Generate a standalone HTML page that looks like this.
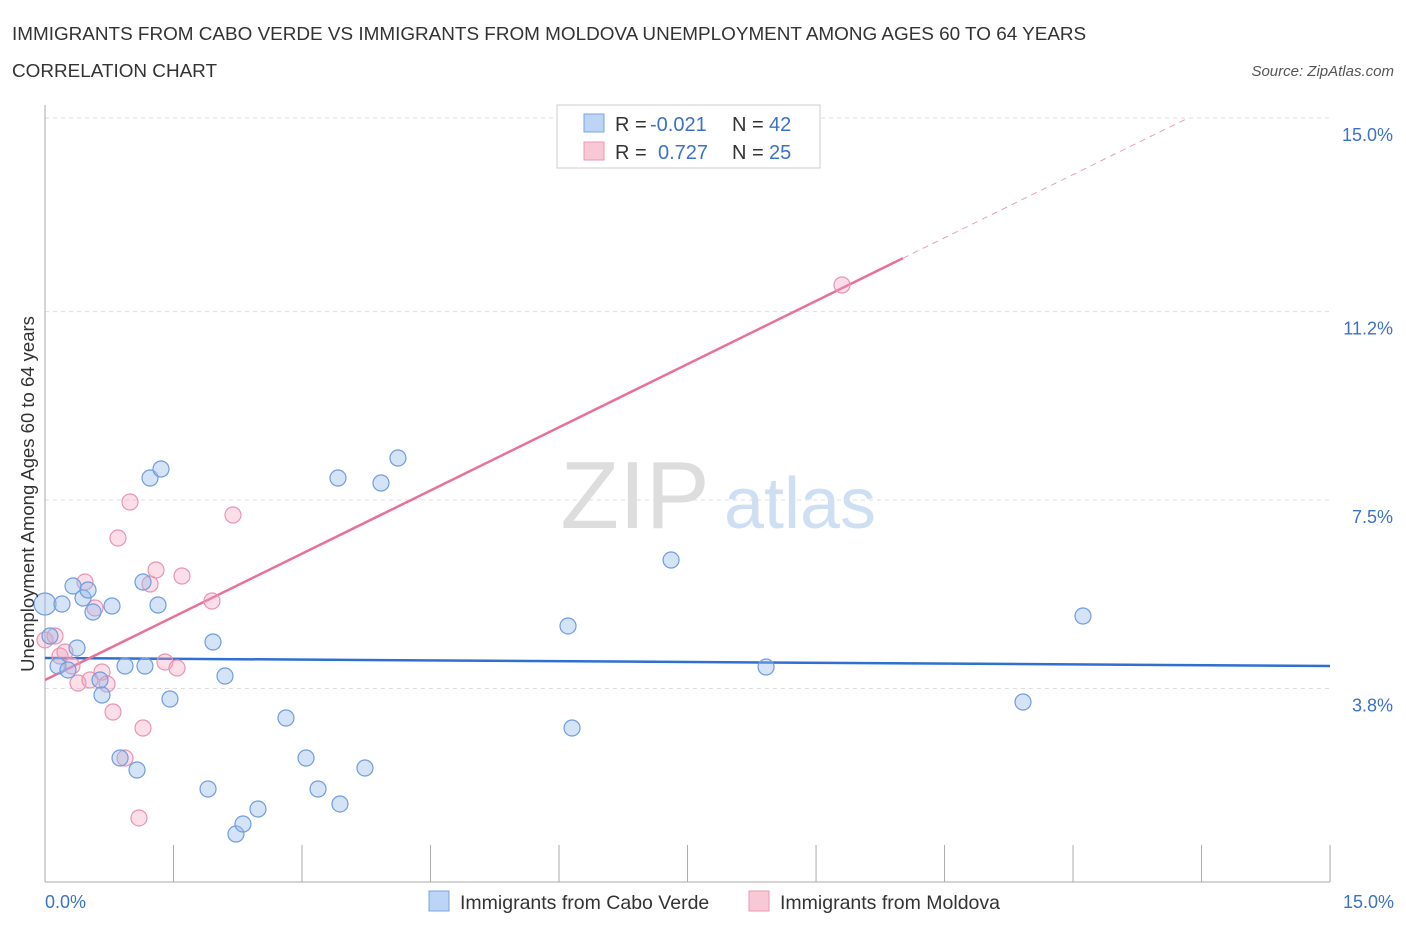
<!DOCTYPE html>
<html><head><meta charset="utf-8"><style>
body{margin:0;background:#fff;font-family:"Liberation Sans",sans-serif}
svg text{font-family:"Liberation Sans",sans-serif}
</style></head><body>
<svg id="c" width="1406" height="930">
<text x="12" y="40" font-size="18.9" fill="#333">IMMIGRANTS FROM CABO VERDE VS IMMIGRANTS FROM MOLDOVA UNEMPLOYMENT AMONG AGES 60 TO 64 YEARS</text>
<text x="12" y="77" font-size="18.9" fill="#333">CORRELATION CHART</text>
<text x="1394" y="76" font-size="15" fill="#555" font-style="italic" text-anchor="end">Source: ZipAtlas.com</text>
<text x="635" y="528" font-size="96" fill="#ddd" font-family="Liberation Serif" text-anchor="middle">ZIP</text>
<text x="800" y="528" font-size="72" fill="#cfdff3" text-anchor="middle">atlas</text>
<g id="grid"></g><g id="axes"></g><g id="lines"></g><g id="pts"></g>
<text transform="translate(34,494) rotate(-90)" font-size="18.5" fill="#333" text-anchor="middle">Unemployment Among Ages 60 to 64 years</text>
<text x="45" y="908" font-size="18" fill="#3b72c8">0.0%</text>
<text x="1394" y="908" font-size="18" fill="#3b72c8" text-anchor="end">15.0%</text>
<g>
<rect x="557" y="105" width="263" height="63" fill="#fff" stroke="#ccc"/>
<rect x="584" y="114" width="20" height="18" fill="#bcd4f5" stroke="#7aa5e0"/>
<rect x="584" y="142" width="20" height="18" fill="#f9c8d6" stroke="#e89ab2"/>
<text x="615" y="131" font-size="20" fill="#333">R =</text>
<text x="650" y="131" font-size="20" fill="#3b72c8">-0.021</text>
<text x="732" y="131" font-size="20" fill="#333">N =</text>
<text x="769" y="131" font-size="20" fill="#3b72c8">42</text>
<text x="615" y="159" font-size="20" fill="#333">R =</text>
<text x="658" y="159" font-size="20" fill="#3b72c8">0.727</text>
<text x="732" y="159" font-size="20" fill="#333">N =</text>
<text x="769" y="159" font-size="20" fill="#3b72c8">25</text>
</g>
<g>
<rect x="429" y="891" width="20" height="20" fill="#bcd4f5" stroke="#7aa5e0"/>
<text x="460" y="909" font-size="19.5" fill="#333">Immigrants from Cabo Verde</text>
<rect x="749" y="891" width="20" height="20" fill="#f9c8d6" stroke="#e89ab2"/>
<text x="780" y="909" font-size="19.5" fill="#333">Immigrants from Moldova</text>
</g>
</svg>
<script>
const blueX=[0,0.058,0.198,0.152,0.268,0.327,0.374,0.444,0.502,0.560,0.642,0.665,0.782,0.876,0.934,1.074,1.144,1.167,1.226,1.319,1.354,1.459,1.903,1.961,2.101,2.229,2.311,2.486,2.813,3.047,3.187,3.42,3.443,3.735,3.922,4.12,6.105,6.152,7.308,8.417,11.416,12.116];
const blueY=[5.458,4.830,5.458,4.241,4.163,5.812,4.595,5.576,5.733,5.301,3.966,3.672,5.419,2.434,4.241,2.199,5.890,4.241,7.932,5.439,8.109,3.593,1.826,4.712,4.045,0.942,1.139,1.433,3.220,2.434,1.826,7.932,1.532,2.238,7.834,8.325,5.027,3.024,6.322,4.221,3.534,5.223];
const pinkX=[0,0.117,0.175,0.233,0.315,0.385,0.467,0.525,0.584,0.665,0.724,0.794,0.852,0.934,0.992,1.097,1.144,1.226,1.296,1.401,1.541,1.599,1.949,2.194,9.303];
const pinkY=[4.752,4.830,4.437,4.516,4.241,3.907,5.890,3.966,5.380,4.123,3.888,3.338,6.754,2.434,7.461,1.257,3.024,5.851,6.126,4.320,4.202,6.008,5.517,7.206,11.722];
const yTicks=[3.8,7.5,11.2,15.0];
const yTickLabels=["3.8%","7.5%","11.2%","15.0%"];
const blueFit=[4.398,4.241];
const pinkFit=[3.966,0.827];
const NS='http://www.w3.org/2000/svg';
const X=v=>45+v*85.67, Y=v=>882-v*50.93;
function mk(p,t,a){const e=document.createElementNS(NS,t);for(const k in a)e.setAttribute(k,a[k]);p.appendChild(e);return e;}
const g=document.getElementById('grid');
yTicks.forEach((t,i)=>{
 const l=mk(g,'line',{x1:45,x2:1330,y1:Y(t),y2:Y(t),stroke:'#ddd','stroke-dasharray':'4,4'});
 
 
 const tx=mk(g,'text',{x:1393,y:Y(t)+23,'font-size':18,fill:'#3b72c8','text-anchor':'end'});
 tx.textContent=yTickLabels[i];
 
 
});
const ax=document.getElementById('axes');
const ya=mk(ax,'line',{x1:45,x2:45,y1:105,y2:882,stroke:'#aaa'});


const xa=mk(ax,'line',{x1:45,x2:1330,y1:882,y2:882,stroke:'#aaa'});


for(let i=0;i<=10;i++){const t=mk(ax,'line',{x1:X(i*1.5),x2:X(i*1.5),y1:845,y2:882,stroke:'#aaa'});
 
 }
const L=document.getElementById('lines');
const bl=mk(L,'line',{x1:X(0),y1:Y(blueFit[0]),x2:X(15),y2:Y(blueFit[1]),stroke:'#2f6fd0','stroke-width':2.5});


const pe=10.015, pend=(15-pinkFit[0])/pinkFit[1];
const pl=mk(L,'line',{x1:X(0),y1:Y(pinkFit[0]),x2:X(pe),y2:Y(pinkFit[0]+pinkFit[1]*pe),stroke:'#e8719a','stroke-width':2.5});


const pd=mk(L,'line',{x1:X(pe),y1:Y(pinkFit[0]+pinkFit[1]*pe),x2:X(pend),y2:Y(15),stroke:'#e8a0b8','stroke-width':1,'stroke-dasharray':'6,5'});


const P=document.getElementById('pts');
pinkX.forEach((x,i)=>{const c=mk(P,'circle',{cx:X(x),cy:Y(pinkY[i]),r:8,fill:'rgba(244,160,188,0.35)',stroke:'#e895b0','stroke-width':1.2});
 
 });
blueX.forEach((x,i)=>{const c=mk(P,'circle',{cx:X(x),cy:Y(blueY[i]),r:i==0?11:8,fill:'rgba(150,185,235,0.4)',stroke:'#6f9ddf','stroke-width':1.2});
 
 });
</script>
</body></html>
